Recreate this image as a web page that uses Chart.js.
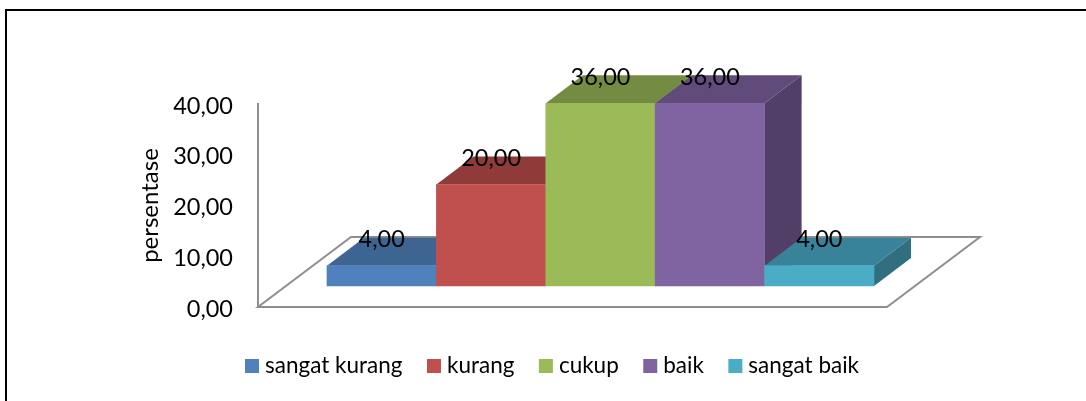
<!DOCTYPE html>
<html>
<head>
<meta charset="utf-8">
<style>html,body{margin:0;padding:0;background:#fff}canvas{display:block}</style>
<script src="https://cdn.jsdelivr.net/npm/chart.js@4"></script>
</head>
<body>
<div style="width:1086px;height:401px"><canvas id="c" width="1086" height="401"></canvas></div>
<script>
const categories = ['sangat kurang', 'kurang', 'cukup', 'baik', 'sangat baik'];
const values = [4, 20, 36, 36, 4];
const tickValues = [0, 10, 20, 30, 40];
const axisTitle = 'persentase';

const FONT = 'Lato, sans-serif';
const frontColors = ['#4F81BD', '#C0504D', '#9BBB59', '#8064A2', '#4BACC6'];
const topColors = ['#3E6491', '#8F3B39', '#748C42', '#604B7A', '#38829A'];
const sideColors = ['#345578', '#7A3230', '#637839', '#523F67', '#306E80'];
const SHIFT = {x: 69, y: -21};
const DEPTH = {x: 37, y: -28};
const FLOOR_GREY = '#8E8E8E';
const fmt = v => v.toFixed(2).replace('.', ',');

function poly(ctx, pts, fill) {
  ctx.beginPath();
  pts.forEach((p, i) => i ? ctx.lineTo(p[0], p[1]) : ctx.moveTo(p[0], p[1]));
  ctx.closePath();
  ctx.fillStyle = fill;
  ctx.fill();
}

const frame = {
  id: 'frame',
  beforeDraw(chart) {
    const ctx = chart.ctx;
    ctx.save();
    ctx.fillStyle = '#000';
    ctx.fillRect(5, 9, 1081, 2);
    ctx.fillRect(5, 9, 2, 392);
    ctx.restore();
  }
};

const solid = {
  id: 'solid',
  beforeDatasetsDraw(chart) {
    const ctx = chart.ctx, a = chart.chartArea;
    ctx.save();
    ctx.strokeStyle = FLOOR_GREY;
    ctx.lineWidth = 2;
    const fl = a.left, fr = 887, fb = a.bottom;
    const fdx = 93, fdy = -70;
    ctx.beginPath();
    ctx.moveTo(fl, fb);
    ctx.lineTo(fr, fb);
    ctx.lineTo(fr + fdx, fb + fdy);
    ctx.lineTo(fl + fdx, fb + fdy);
    ctx.closePath();
    ctx.stroke();
    ctx.restore();

    ctx.save();
    ctx.translate(SHIFT.x, SHIFT.y);
    const meta = chart.getDatasetMeta(0);
    meta.data.forEach((b, i) => {
      const l = b.x - b.width / 2, r = b.x + b.width / 2, t = b.y, bot = b.base;
      const d = DEPTH;
      poly(ctx, [[l, t], [r, t], [r + d.x, t + d.y], [l + d.x, t + d.y]], topColors[i]);
      poly(ctx, [[r, t], [r + d.x, t + d.y], [r + d.x, bot + d.y], [r, bot]], sideColors[i]);
    });
  },
  afterDatasetsDraw(chart) {
    const ctx = chart.ctx;
    ctx.fillStyle = '#000';
    ctx.font = '23.5px ' + FONT;
    ctx.textAlign = 'center';
    ctx.textBaseline = 'middle';
    chart.getDatasetMeta(0).data.forEach((b, i) => {
      ctx.fillText(fmt(values[i]), b.x, b.y - 26);
    });
    ctx.restore();
  }
};

const legendRow = {
  id: 'legendRow',
  afterDraw(chart) {
    const ctx = chart.ctx;
    const size = 14, gapText = 6, gapItem = 24.5, yMid = 366;
    ctx.save();
    ctx.font = '22.5px ' + FONT;
    ctx.textBaseline = 'middle';
    ctx.textAlign = 'left';
    let x = 245;
    categories.forEach((name, i) => {
      ctx.fillStyle = frontColors[i];
      ctx.fillRect(x, yMid - size / 2, size, size);
      ctx.fillStyle = '#000';
      ctx.fillText(name, x + size + gapText, yMid);
      x += size + gapText + ctx.measureText(name).width + gapItem;
    });
    ctx.restore();
  }
};

new Chart(document.getElementById('c'), {
  type: 'bar',
  data: {
    labels: categories,
    datasets: [{
      label: axisTitle,
      data: values,
      backgroundColor: frontColors,
      borderWidth: 0,
      barPercentage: 1,
      categoryPercentage: 1,
      clip: false
    }]
  },
  plugins: [frame, solid, legendRow],
  options: {
    responsive: false,
    animation: false,
    events: [],
    layout: {padding: {left: 136, right: 281, top: 104, bottom: 94}},
    plugins: {legend: {display: false}, tooltip: {enabled: false}, title: {display: false}},
    scales: {
      x: {display: false},
      y: {
        min: 0,
        max: 40,
        afterFit(s) { s.width = 122; },
        afterBuildTicks(s) { s.ticks = tickValues.map(v => ({value: v})); },
        border: {display: true, color: FLOOR_GREY, width: 2},
        grid: {display: false, drawTicks: false, tickLength: 0},
        title: {display: true, text: axisTitle, color: '#000', font: {family: FONT, size: 24}, padding: {top: 0, bottom: 0}},
        ticks: {color: '#000', font: {family: FONT, size: 23.5}, padding: 25, labelOffset: 2, callback: v => fmt(v)}
      }
    }
  }
});
</script>
</body>
</html>
